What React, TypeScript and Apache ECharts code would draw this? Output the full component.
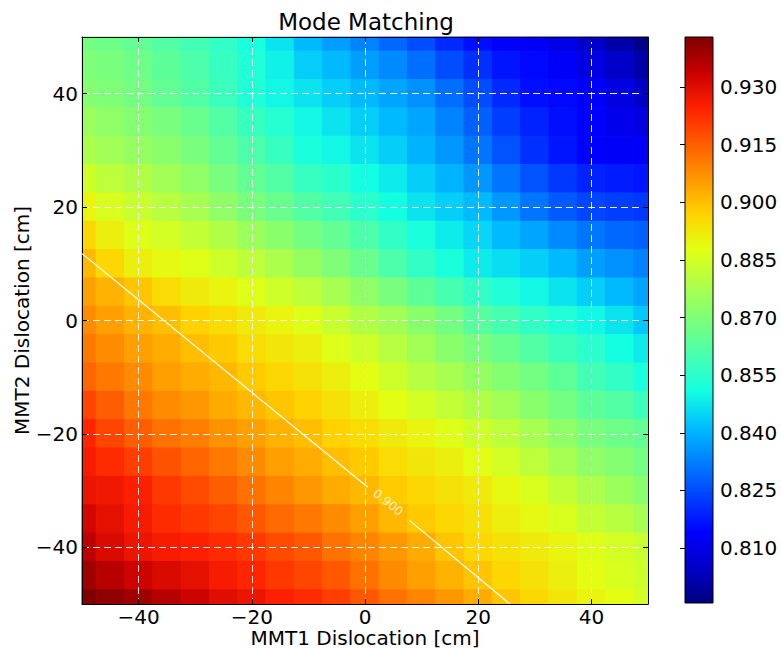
import React, { useEffect, useRef } from "react";
import * as echarts from "echarts";

// Sample positions (cm)
const mmt1Positions = [-50, -45, -40, -35, -30, -25, -20, -15, -10, -5, 0, 5, 10, 15, 20, 25, 30, 35, 40, 45, 50];
const mmt2Positions = [50, 45, 40, 35, 30, 25, 20, 15, 10, 5, 0, -5, -10, -15, -20, -25, -30, -35, -40, -45, -50];

// Mode matching values; one row per MMT2 position (top to bottom), columns follow mmt1Positions
const modeMatching = [
  [0.868, 0.867, 0.865, 0.862, 0.859, 0.856, 0.852, 0.847, 0.841, 0.837, 0.833, 0.829, 0.825, 0.820, 0.816, 0.814, 0.813, 0.810, 0.805, 0.801, 0.797],
  [0.870, 0.869, 0.867, 0.864, 0.861, 0.857, 0.853, 0.849, 0.844, 0.841, 0.837, 0.834, 0.830, 0.825, 0.821, 0.817, 0.815, 0.813, 0.809, 0.805, 0.801],
  [0.871, 0.870, 0.868, 0.865, 0.862, 0.858, 0.853, 0.850, 0.847, 0.844, 0.841, 0.838, 0.835, 0.830, 0.825, 0.820, 0.816, 0.815, 0.813, 0.809, 0.805],
  [0.875, 0.873, 0.871, 0.869, 0.866, 0.862, 0.857, 0.854, 0.850, 0.847, 0.844, 0.841, 0.838, 0.833, 0.828, 0.823, 0.819, 0.816, 0.814, 0.811, 0.809],
  [0.878, 0.876, 0.874, 0.872, 0.869, 0.865, 0.861, 0.857, 0.852, 0.850, 0.847, 0.844, 0.840, 0.836, 0.831, 0.826, 0.821, 0.817, 0.814, 0.813, 0.813],
  [0.884, 0.881, 0.879, 0.876, 0.873, 0.869, 0.865, 0.862, 0.857, 0.855, 0.851, 0.848, 0.844, 0.840, 0.836, 0.831, 0.826, 0.822, 0.819, 0.818, 0.817],
  [0.890, 0.886, 0.883, 0.880, 0.877, 0.873, 0.869, 0.866, 0.862, 0.859, 0.855, 0.851, 0.847, 0.844, 0.841, 0.836, 0.831, 0.827, 0.824, 0.823, 0.822],
  [0.896, 0.891, 0.887, 0.885, 0.882, 0.879, 0.875, 0.872, 0.868, 0.865, 0.861, 0.856, 0.852, 0.848, 0.845, 0.841, 0.838, 0.834, 0.831, 0.829, 0.828],
  [0.901, 0.896, 0.891, 0.889, 0.887, 0.884, 0.881, 0.878, 0.874, 0.870, 0.866, 0.861, 0.856, 0.852, 0.848, 0.846, 0.844, 0.841, 0.837, 0.835, 0.833],
  [0.905, 0.902, 0.899, 0.895, 0.892, 0.890, 0.887, 0.884, 0.881, 0.877, 0.873, 0.869, 0.864, 0.860, 0.856, 0.853, 0.850, 0.847, 0.844, 0.841, 0.838],
  [0.908, 0.905, 0.902, 0.900, 0.897, 0.895, 0.892, 0.890, 0.887, 0.883, 0.879, 0.876, 0.872, 0.868, 0.863, 0.860, 0.856, 0.853, 0.850, 0.847, 0.843],
  [0.911, 0.908, 0.905, 0.903, 0.900, 0.898, 0.895, 0.893, 0.891, 0.887, 0.884, 0.880, 0.876, 0.872, 0.869, 0.866, 0.862, 0.858, 0.855, 0.851, 0.848],
  [0.914, 0.911, 0.908, 0.905, 0.903, 0.901, 0.898, 0.896, 0.894, 0.891, 0.888, 0.884, 0.880, 0.877, 0.874, 0.871, 0.868, 0.864, 0.859, 0.856, 0.852],
  [0.919, 0.915, 0.911, 0.908, 0.906, 0.903, 0.901, 0.899, 0.897, 0.894, 0.891, 0.888, 0.885, 0.882, 0.879, 0.876, 0.872, 0.868, 0.864, 0.862, 0.858],
  [0.924, 0.919, 0.915, 0.912, 0.910, 0.907, 0.905, 0.902, 0.900, 0.897, 0.895, 0.892, 0.890, 0.887, 0.884, 0.881, 0.877, 0.873, 0.869, 0.867, 0.865],
  [0.926, 0.923, 0.920, 0.917, 0.914, 0.911, 0.908, 0.905, 0.903, 0.900, 0.898, 0.895, 0.893, 0.891, 0.888, 0.885, 0.881, 0.877, 0.873, 0.871, 0.868],
  [0.928, 0.927, 0.925, 0.921, 0.918, 0.915, 0.912, 0.909, 0.906, 0.903, 0.901, 0.898, 0.896, 0.894, 0.892, 0.889, 0.886, 0.882, 0.878, 0.875, 0.872],
  [0.932, 0.929, 0.926, 0.923, 0.921, 0.919, 0.916, 0.913, 0.911, 0.908, 0.905, 0.901, 0.898, 0.896, 0.894, 0.891, 0.889, 0.886, 0.882, 0.880, 0.877],
  [0.935, 0.931, 0.928, 0.926, 0.925, 0.923, 0.921, 0.918, 0.916, 0.912, 0.909, 0.906, 0.903, 0.899, 0.896, 0.894, 0.892, 0.890, 0.887, 0.885, 0.883],
  [0.939, 0.936, 0.933, 0.931, 0.929, 0.926, 0.924, 0.921, 0.919, 0.916, 0.912, 0.908, 0.905, 0.902, 0.899, 0.896, 0.894, 0.891, 0.888, 0.886, 0.884],
  [0.943, 0.941, 0.939, 0.936, 0.933, 0.930, 0.928, 0.925, 0.923, 0.920, 0.916, 0.912, 0.909, 0.906, 0.903, 0.899, 0.896, 0.893, 0.890, 0.888, 0.885],
];

// 0.900 contour (two segments, gap for the label)
const contourSegmentA = [[-50, 11.8], [0.5, -29.4]];
const contourSegmentB = [[7.9, -35.3], [25.6, -50]];
const contourLabelPoint = [4.1, -32.1];
const contourLabel = "0.900";

const colorbarMin = 0.7957;
const colorbarMax = 0.943;
const colorbarTicks = [0.81, 0.825, 0.84, 0.855, 0.87, 0.885, 0.9, 0.915, 0.93];

const jet = [
  "#000080", "#0000C8", "#0000FF", "#0040FF", "#0080FF", "#00BFFF", "#14FFE2", "#48FFAF",
  "#7BFF7B", "#AFFF48", "#E2FF14", "#FFD200", "#FF9700", "#FF5C00", "#FF2100", "#C80000", "#800000",
];

const FONT = "'DejaVu Sans', sans-serif";
const fmt = (v: number) => (v < 0 ? "\u2212" + Math.abs(v) : String(v));

export default function App() {
  const ref = useRef<HTMLDivElement>(null);
  useEffect(() => {
    if (!ref.current) return;
    const chart = echarts.init(ref.current, undefined, { renderer: "svg" });
    const data: number[][] = [];
    mmt2Positions.forEach((y, i) => {
      mmt1Positions.forEach((x, j) => {
        data.push([x, y, modeMatching[i][j]]);
      });
    });
    const half = 2.5;
    const stops = jet.map((c, i) => ({ offset: 1 - i / (jet.length - 1), color: c })).reverse();

    const mainAxisCommon = {
      type: "value" as const,
      min: -50,
      max: 50,
      splitNumber: 5,
      z: 5,
      axisLine: { show: true, onZero: false, lineStyle: { color: "#000", width: 1 } },
      axisTick: { show: true, inside: true, length: 5, lineStyle: { color: "#000", width: 1 } },
    };

    chart.setOption({
      animation: false,
      backgroundColor: "#fff",
      title: {
        text: "Mode Matching",
        left: 366,
        textAlign: "center",
        top: 10,
        padding: 0,
        textStyle: { fontFamily: FONT, fontSize: 23, fontWeight: "normal", color: "#000" },
      },
      grid: [
        { left: 82, top: 37, width: 566, height: 567, show: false, outerBoundsMode: "none", containLabel: false },
        { left: 685, top: 37, width: 28, height: 566, show: false, outerBoundsMode: "none", containLabel: false },
      ],
      visualMap: {
        show: false,
        type: "continuous",
        min: colorbarMin,
        max: colorbarMax,
        seriesIndex: 0,
        dimension: 2,
        inRange: { color: jet },
      },
      xAxis: [
        {
          ...mainAxisCommon,
          gridIndex: 0,
          position: "bottom",
          name: "MMT1 Dislocation [cm]",
          nameLocation: "middle",
          nameGap: 25,
          nameMoveOverlap: false,
          nameTextStyle: { fontFamily: FONT, fontSize: 20, lineHeight: 18, color: "#000" },
          axisLabel: {
            fontFamily: FONT, fontSize: 20, lineHeight: 16, color: "#000", margin: 5,
            showMinLabel: false, showMaxLabel: false, formatter: fmt,
          },
          splitLine: { show: true, lineStyle: { color: "rgba(255,255,255,0.9)", width: 1, type: [7, 4] } },
        },
        {
          ...mainAxisCommon,
          gridIndex: 0,
          position: "top",
          axisLabel: { show: false },
          splitLine: { show: false },
        },
        { gridIndex: 1, type: "value", min: 0, max: 1, show: false },
      ],
      yAxis: [
        {
          ...mainAxisCommon,
          gridIndex: 0,
          position: "left",
          name: "MMT2 Dislocation [cm]",
          nameLocation: "middle",
          nameGap: 50,
          nameMoveOverlap: false,
          nameRotate: 90,
          nameTextStyle: { fontFamily: FONT, fontSize: 20, color: "#000" },
          axisLabel: {
            fontFamily: FONT, fontSize: 20, color: "#000", margin: 4,
            showMinLabel: false, showMaxLabel: false, formatter: fmt,
          },
          splitLine: { show: true, lineStyle: { color: "rgba(255,255,255,0.9)", width: 1, type: [7, 4] } },
        },
        {
          ...mainAxisCommon,
          gridIndex: 0,
          position: "right",
          axisLabel: { show: false },
          splitLine: { show: false },
        },
        {
          gridIndex: 1,
          type: "value",
          position: "right",
          min: colorbarMin,
          max: colorbarMax,
          z: 5,
          axisLine: { show: false },
          axisTick: { show: true, inside: true, length: 5, customValues: colorbarTicks, lineStyle: { color: "#000" } },
          axisLabel: {
            show: true, customValues: colorbarTicks, fontFamily: FONT, fontSize: 20, color: "#000", margin: 7,
            formatter: (v: number) => v.toFixed(3),
          },
          splitLine: { show: false },
        },
      ],
      series: [
        {
          type: "custom",
          xAxisIndex: 0,
          yAxisIndex: 0,
          encode: { x: 0, y: 1 },
          data,
          renderItem: (params: any, api: any) => {
            const x = api.value(0);
            const y = api.value(1);
            const p0 = api.coord([x - half, y + half]);
            const p1 = api.coord([x + half, y - half]);
            const cs = params.coordSys;
            const shape = echarts.graphic.clipRectByRect(
              { x: p0[0], y: p0[1], width: p1[0] - p0[0], height: p1[1] - p0[1] },
              { x: cs.x, y: cs.y, width: cs.width, height: cs.height }
            );
            if (!shape) return null;
            const c = api.visual("color");
            return { type: "rect", shape, style: { fill: c, stroke: c, lineWidth: 1 } };
          },
          z: 1,
        },
        {
          type: "line",
          xAxisIndex: 0,
          yAxisIndex: 0,
          data: contourSegmentA,
          symbol: "none",
          lineStyle: { color: "#fff", width: 1.2 },
          z: 6,
        },
        {
          type: "line",
          xAxisIndex: 0,
          yAxisIndex: 0,
          data: contourSegmentB,
          symbol: "none",
          lineStyle: { color: "#fff", width: 1.2 },
          z: 6,
        },
        {
          type: "scatter",
          xAxisIndex: 0,
          yAxisIndex: 0,
          data: [contourLabelPoint],
          symbolSize: 0,
          z: 6,
          label: {
            show: true,
            position: "inside",
            formatter: contourLabel,
            rotate: -39,
            color: "#fff",
            fontFamily: FONT,
            fontSize: 12,
          },
        },
        {
          type: "custom",
          xAxisIndex: 2,
          yAxisIndex: 2,
          data: [[0.5, 0.87]],
          renderItem: (params: any) => {
            const cs = params.coordSys;
            return {
              type: "rect",
              shape: { x: cs.x, y: cs.y, width: cs.width, height: cs.height },
              style: {
                fill: new echarts.graphic.LinearGradient(0, 0, 0, 1, stops),
                stroke: "#000",
                lineWidth: 1,
              },
            };
          },
          z: 1,
        },
      ],
    });
    return () => chart.dispose();
  }, []);
  return <div ref={ref} style={{ position: "fixed", left: 0, top: 0, width: 781, height: 649 }} />;
}
